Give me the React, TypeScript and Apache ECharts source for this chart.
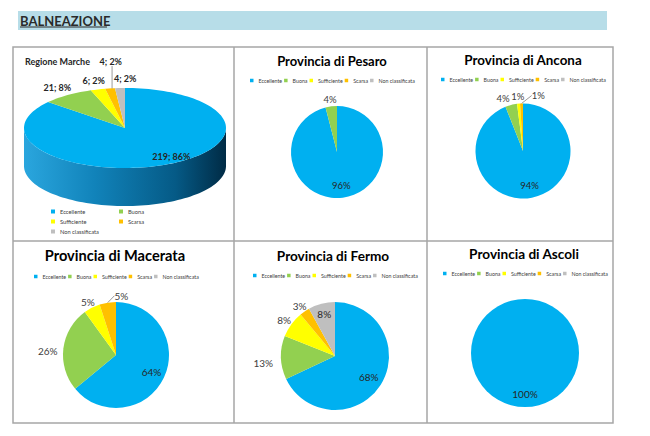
import { useEffect, useRef } from "react";
import * as echarts from "echarts";

const categories = ["Eccellente", "Buona", "Sufficiente", "Scarsa", "Non classificata"];
const sliceColors = ["#00b0f0", "#92d050", "#ffff00", "#ffc000", "#bfbfbf"];

// Regione Marche: numero di acque per classe
const regionCounts = [219, 21, 6, 4, 4];

// Province: percentuali per classe
const pesaroPct = [96, 4, 0, 0, 0];
const anconaPct = [94, 4, 1, 1, 0];
const macerataPct = [64, 26, 5, 5, 0];
const fermoPct = [68, 13, 8, 3, 8];
const ascoliPct = [100, 0, 0, 0, 0];

const FONT = "Lato, 'Liberation Sans', Arial, sans-serif";
const LINE = "#a6a6a6";

type Panel = {
  title: string;
  values: number[];
  cx: number;
  cy: number;
  r: number;
  titleX: number;
  titleY: number;
  titleSize: number;
  legendX: number;
  legendY: number;
  labelSize: number;
  inside: string[];
  nudge?: Record<string, [number, number]>;
  leader?: string[];
};

const panels: Panel[] = [
  {
    title: "Provincia di Pesaro", values: pesaroPct, cx: 337, cy: 152, r: 46,
    titleX: 332, titleY: 61, titleSize: 13, legendX: 333, legendY: 81, labelSize: 9.5,
    inside: ["Eccellente"],
  },
  {
    title: "Provincia di Ancona", values: anconaPct, cx: 523, cy: 151, r: 47.5,
    titleX: 523, titleY: 60, titleSize: 13.4, legendX: 524, legendY: 80, labelSize: 9.5,
    inside: ["Eccellente"], nudge: { Buona: [-6, 0], Scarsa: [17, -1] }, leader: ["Scarsa"],
  },
  {
    title: "Provincia di Macerata", values: macerataPct, cx: 116, cy: 355, r: 53,
    titleX: 115, titleY: 255, titleSize: 14.6, legendX: 117, legendY: 277, labelSize: 10,
    inside: ["Eccellente"], nudge: { Buona: [-4, 4], Scarsa: [15, 0] }, leader: ["Scarsa"],
  },
  {
    title: "Provincia di Fermo", values: fermoPct, cx: 335, cy: 356, r: 54,
    titleX: 333, titleY: 256, titleSize: 13.6, legendX: 336, legendY: 276, labelSize: 10,
    inside: ["Eccellente", "Non classificata"], nudge: { Buona: [-6, 5] },
  },
  {
    title: "Provincia di Ascoli", values: ascoliPct, cx: 525, cy: 353, r: 54,
    titleX: 524, titleY: 254, titleSize: 13.6, legendX: 526, legendY: 274, labelSize: 10,
    inside: ["Eccellente"],
  },
];

// 3D pie of the region
const REG = { cx: 125, cy: 128, rx: 101, ry: 40, depth: 38 };
const regionNudge: Record<string, [number, number]> = {
  Eccellente: [4, -8],
  Scarsa: [3, -18],
  "Non classificata": [6, 0],
};

const LEGEND_W = 166;

function pieSeries(p: Panel) {
  const items = p.values
    .map((v, i) => ({ name: categories[i], value: v, color: sliceColors[i] }))
    .filter(d => d.value > 0);
  const total = items.reduce((s, d) => s + d.value, 0);
  let acc = 0;
  const mids = items.map(d => {
    const m = ((acc + d.value / 2) / total) * Math.PI * 2;
    acc += d.value;
    return m;
  });
  return {
    type: "pie",
    name: p.title,
    center: [p.cx, p.cy],
    radius: p.r,
    startAngle: 90,
    clockwise: true,
    avoidLabelOverlap: false,
    silent: true,
    itemStyle: { borderWidth: 0 },
    label: {
      show: true,
      position: "outside",
      formatter: "{c}%",
      fontFamily: FONT,
      fontSize: p.labelSize,
      color: "#404040",
      distanceToLabelLine: 0,
    },
    labelLine: { show: false, length: 4, length2: 0, lineStyle: { color: "#7f7f7f", width: 0.8 } },
    data: items.map(d => ({
      name: d.name,
      value: d.value,
      itemStyle: { color: d.color },
      label: p.inside.includes(d.name) ? { position: "inside", color: "#262626" } : undefined,
      labelLine: p.leader?.includes(d.name) ? { show: true } : undefined,
    })),
    labelLayout: (lp: any) => {
      const i = lp.dataIndex;
      const name = items[i].name;
      const sx = Math.sin(mids[i]);
      const sy = -Math.cos(mids[i]);
      const w = lp.labelRect.width;
      const h = lp.labelRect.height;
      let x: number, y: number;
      if (p.inside.includes(name)) {
        const k = items.length === 1 ? 0.76 : name === "Eccellente" ? 0.74 : 0.8;
        x = p.cx + sx * p.r * k;
        y = p.cy + sy * p.r * k;
      } else {
        x = p.cx + sx * (p.r + 2) + (sx * w) / 2;
        y = p.cy + sy * (p.r + 2) + (sy * h) / 2;
      }
      const n = p.nudge?.[name];
      if (n) {
        x += n[0];
        y += n[1];
      }
      return { x, y, align: "center", verticalAlign: "middle" };
    },
  };
}

function regionSeries() {
  const total = regionCounts.reduce((s, v) => s + v, 0);
  const starts: number[] = [];
  regionCounts.reduce((s, v) => (starts.push(s), s + v), 0);
  const pt = (a: number, k = 1, dy = 0): number[] => [
    REG.cx + REG.rx * k * Math.sin(a),
    REG.cy - REG.ry * k * Math.cos(a) + dy,
  ];
  const arc = (a0: number, a1: number, dy = 0) => {
    const n = Math.max(2, Math.ceil(((a1 - a0) / (Math.PI * 2)) * 160));
    const out: number[][] = [];
    for (let j = 0; j <= n; j++) out.push(pt(a0 + ((a1 - a0) * j) / n, 1, dy));
    return out;
  };
  return {
    type: "custom",
    name: "Regione Marche",
    coordinateSystem: "none",
    silent: true,
    data: regionCounts.map((v, i) => ({ name: categories[i], value: v })),
    renderItem: (params: any, api: any) => {
      const i = params.dataIndex;
      const v = api.value(0);
      const a0 = (starts[i] / total) * Math.PI * 2;
      const a1 = ((starts[i] + v) / total) * Math.PI * 2;
      const children: any[] = [];
      // front wall
      const s = Math.max(a0, Math.PI / 2);
      const e = Math.min(a1, (Math.PI * 3) / 2);
      if (s < e) {
        const top = arc(s, e);
        const bottom = arc(s, e, REG.depth).reverse();
        children.push({
          type: "polygon",
          shape: { points: top.concat(bottom) },
          style: {
            fill: new echarts.graphic.LinearGradient(0, 0, 1, 0, [
              { offset: 0, color: "#2aa6de" },
              { offset: 0.35, color: "#1183ba" },
              { offset: 0.75, color: "#055a86" },
              { offset: 1, color: "#002b45" },
            ]),
          },
        });
      }
      // top face
      children.push({
        type: "polygon",
        shape: { points: [[REG.cx, REG.cy]].concat(arc(a0, a1)) },
        style: { fill: sliceColors[i] },
      });
      // label
      const name = categories[i];
      const mid = (a0 + a1) / 2;
      const sx = Math.sin(mid);
      const sy = -Math.cos(mid);
      const text = `${v}; ${Math.round((v / total) * 100)}%`;
      const w = text.length * 4.6;
      const h = 11;
      let x: number, y: number;
      if (i === 0) {
        [x, y] = pt(mid, 1);
      } else {
        x = REG.cx + (REG.rx + 4) * sx + (sx * w) / 2;
        y = REG.cy + (REG.ry + 4) * sy + (sy * h) / 2;
      }
      const n = regionNudge[name];
      if (n) {
        x += n[0];
        y += n[1];
        if (name === "Scarsa") {
          const edge = pt(mid, 1);
          children.push({
            type: "line",
            shape: { x1: edge[0] + 2, y1: y + 5, x2: edge[0] + 2, y2: edge[1] },
            style: { stroke: "#7f7f7f", lineWidth: 0.8 },
          });
        }
      }
      children.push({
        type: "text",
        x,
        y,
        style: {
          text,
          fill: "#262626",
          fontFamily: FONT,
          fontSize: 9,
          fontWeight: "bold",
          align: "center",
          verticalAlign: "middle",
        },
      });
      return { type: "group", children };
    },
  };
}

function flatLegend(p: Panel) {
  return {
    data: categories,
    orient: "horizontal",
    left: p.legendX - LEGEND_W / 2,
    top: p.legendY - 3,
    padding: 0,
    icon: "rect",
    itemWidth: 3.5,
    itemHeight: 3.5,
    itemGap: 2,
    selectedMode: false,
    textStyle: { fontFamily: FONT, fontSize: 5.3, color: "#404040" },
  };
}

function regionLegend(names: string[], left: number) {
  return {
    data: names,
    orient: "vertical",
    left,
    top: 208.5,
    padding: 0,
    icon: "rect",
    itemWidth: 4,
    itemHeight: 4,
    itemGap: 4,
    selectedMode: false,
    textStyle: { fontFamily: FONT, fontSize: 5.7, color: "#404040" },
  };
}

function buildOption() {
  const frame: any[] = [
    { type: "rect", shape: { x: 18, y: 11, width: 589, height: 19 }, style: { fill: "#b7dde8" } },
    {
      type: "text",
      x: 20,
      y: 20.5,
      style: {
        text: "BALNEAZIONE",
        fill: "#2a2a2a",
        fontFamily: FONT,
        fontSize: 13,
        fontWeight: "bold",
        verticalAlign: "middle",
      },
    },
    { type: "line", shape: { x1: 20, y1: 27, x2: 107, y2: 27 }, style: { stroke: "#2a2a2a", lineWidth: 1 } },
    { type: "rect", shape: { x: 13, y: 47, width: 600, height: 376 }, style: { fill: "none", stroke: LINE, lineWidth: 1.5 } },
    { type: "line", shape: { x1: 234, y1: 47, x2: 234, y2: 423 }, style: { stroke: LINE, lineWidth: 1.5 } },
    { type: "line", shape: { x1: 427, y1: 47, x2: 427, y2: 423 }, style: { stroke: LINE, lineWidth: 1.5 } },
    { type: "line", shape: { x1: 13, y1: 241, x2: 613, y2: 241 }, style: { stroke: LINE, lineWidth: 1.5 } },
    {
      type: "text",
      x: 25,
      y: 61,
      style: {
        text: "Regione Marche",
        fill: "#262626",
        fontFamily: FONT,
        fontSize: 9,
        fontWeight: "bold",
        verticalAlign: "middle",
      },
    },
  ];
  const titles = panels.map(p => ({
    type: "text",
    x: p.titleX,
    y: p.titleY,
    style: {
      text: p.title,
      fill: "#000",
      fontFamily: FONT,
      fontSize: p.titleSize,
      fontWeight: "bold",
      align: "center",
      verticalAlign: "middle",
    },
  }));

  return {
    animation: false,
    backgroundColor: "#fff",
    legend: [
      ...panels.map(flatLegend),
      regionLegend(["Eccellente", "Sufficiente", "Non classificata"], 51),
      regionLegend(["Buona", "Scarsa"], 119),
    ],
    graphic: [...frame, ...titles],
    series: [regionSeries(), ...panels.map(pieSeries)],
  };
}

export default function App() {
  const ref = useRef<HTMLDivElement>(null);

  useEffect(() => {
    document.body.style.margin = "0";
    if (!ref.current) return;
    const chart = echarts.init(ref.current, null, { renderer: "svg" });
    chart.setOption(buildOption() as any);
    return () => chart.dispose();
  }, []);

  return <div ref={ref} style={{ width: 650, height: 436 }} />;
}
